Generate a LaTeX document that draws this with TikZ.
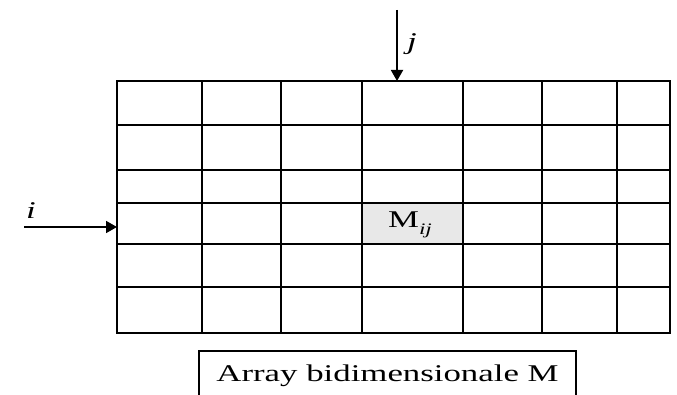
\documentclass[tikz,border=0pt]{standalone}
\usepackage{fontspec}
\setmainfont{Liberation Serif}
\usetikzlibrary{arrows.meta}
\tikzset{
  gridline/.style={line width=1.8pt, line cap=rect},
  pointer/.style={line width=1.8pt, -{Triangle[length=11pt,width=12pt]}},
  lbl/.style={font=\fontsize{24}{28}\selectfont\itshape, inner sep=0pt},
  capbox/.style={draw, line width=1.8pt, minimum width=377pt, minimum height=50pt, inner sep=0pt, font=\fontsize{24}{28}\selectfont},
}
\newcommand{\widen}[1]{\scalebox{1.45}[1]{#1}}
\begin{document}
\begin{tikzpicture}[x=1pt,y=-1pt]
\useasboundingbox (0,0) rectangle (677,395);
\clip (0,0) rectangle (677,395);
\fill[gray!18] (362,203) rectangle (463,244);
\foreach \x in {117,202,281,362,463,542,617,670} \draw[gridline] (\x,81) -- (\x,333);
\foreach \y in {81,125,170,203,244,287,333} \draw[gridline] (117,\y) -- (670,\y);
\coordinate (gtop) at (397,81);
\coordinate (gleft) at (117,227);
\coordinate (jstart) at (397,10);
\coordinate (istart) at (24,227);
\draw[pointer] (jstart) -- (gtop);
\draw[pointer] (istart) -- (gleft);
\node[lbl] (jlab) at (412,44) {\widen{j}};
\node[lbl] (ilab) at (31,211) {\widen{i}};
\node[inner sep=0pt, font=\fontsize{24}{28}\selectfont] (mij) at (410,225) {\widen{M\raisebox{-0.3em}{\fontsize{16}{18}\selectfont\itshape ij}}};
\node[capbox] (cap) at (387.5,376) {\widen{Array bidimensionale M}};
\end{tikzpicture}
\end{document}
